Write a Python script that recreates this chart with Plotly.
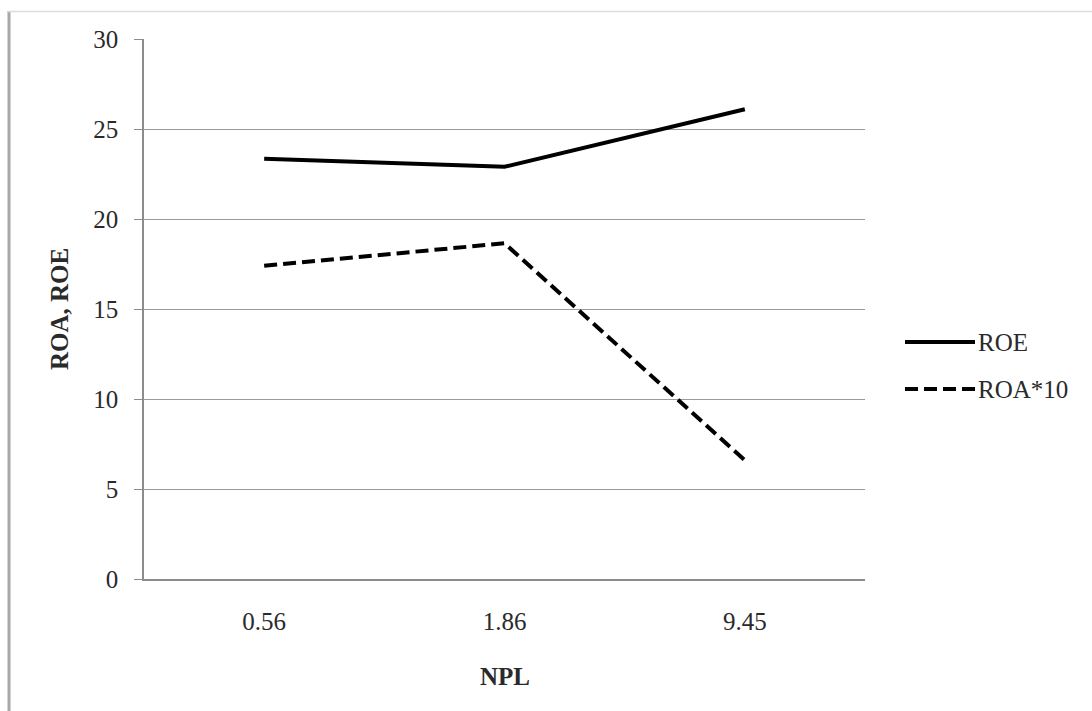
import plotly.graph_objects as go

categories = ["0.56", "1.86", "9.45"]
roe = [23.35, 22.9, 26.1]
roa10 = [17.4, 18.65, 6.6]
series_names = ["ROE", "ROA*10"]
y_ticks = [0, 5, 10, 15, 20, 25, 30]
x_title = "NPL"
y_title = "ROA, ROE"

W, H = 1092, 711
L, R, T, B = 144, 227, 39, 132
FONT = "Liberation Serif, Times New Roman, serif"
TXT = "#2a2a2a"
FS = 25

def px(x):
    return (x - L) / (W - L - R)

def py(y):
    return 1 - (y - T) / (H - T - B)

fig = go.Figure()
fig.add_trace(go.Scatter(x=categories, y=roe, name=series_names[0], mode="lines",
                         line=dict(color="black", width=4), showlegend=False))
fig.add_trace(go.Scatter(x=categories, y=roa10, name=series_names[1], mode="lines",
                         line=dict(color="black", width=4, dash="13px,6px"), showlegend=False))

shapes = [
    # page frame
    dict(type="line", xref="paper", yref="paper", x0=px(9), x1=px(9), y0=py(11), y1=py(711),
         line=dict(color="#a8a8a8", width=3)),
    dict(type="line", xref="paper", yref="paper", x0=px(8), x1=px(1092), y0=py(11.5), y1=py(11.5),
         line=dict(color="#dcdcdc", width=1.5)),
    # legend samples
    dict(type="line", xref="paper", yref="paper", x0=px(905), x1=px(975), y0=py(342), y1=py(342),
         line=dict(color="black", width=4)),
    dict(type="line", xref="paper", yref="paper", x0=px(905), x1=px(975), y0=py(389), y1=py(389),
         line=dict(color="black", width=4, dash="13px,6px")),
]

annotations = [
    dict(text=series_names[0], xref="paper", yref="paper", x=px(976), y=py(342),
         xanchor="left", yanchor="middle", showarrow=False, font=dict(family=FONT, size=FS, color=TXT)),
    dict(text=series_names[1], xref="paper", yref="paper", x=px(976), y=py(389),
         xanchor="left", yanchor="middle", showarrow=False, font=dict(family=FONT, size=FS, color=TXT)),
    dict(text="<b>" + x_title + "</b>", xref="paper", yref="paper", x=px(505), y=py(676),
         xanchor="center", yanchor="middle", showarrow=False, font=dict(family=FONT, size=FS, color=TXT)),
    dict(text="<b>" + y_title + "</b>", xref="paper", yref="paper", x=px(59), y=py(309),
         xanchor="center", yanchor="middle", textangle=-90, showarrow=False,
         font=dict(family=FONT, size=FS, color=TXT)),
]

fig.update_layout(
    width=W, height=H,
    margin=dict(l=L, r=R, t=T, b=B, autoexpand=False),
    paper_bgcolor="white", plot_bgcolor="white",
    font=dict(family=FONT, size=FS, color=TXT),
    shapes=shapes, annotations=annotations,
    xaxis=dict(type="category", range=[-0.5, 2.5], showgrid=False, showline=True,
               linecolor="#8c8c8c", linewidth=1.5, ticks="", ticklabelstandoff=19,
               tickfont=dict(family=FONT, size=FS, color=TXT), zeroline=False, fixedrange=True),
    yaxis=dict(range=[0, 30], tickvals=y_ticks, showgrid=True, gridcolor="#9a9a9a", gridwidth=1.2,
               showline=True, linecolor="#8c8c8c", linewidth=1.5, ticks="outside", ticklen=8,
               tickcolor="#8c8c8c", ticklabelstandoff=11, zeroline=False,
               tickfont=dict(family=FONT, size=FS, color=TXT), fixedrange=True),
)

fig.write_html("out.html")
